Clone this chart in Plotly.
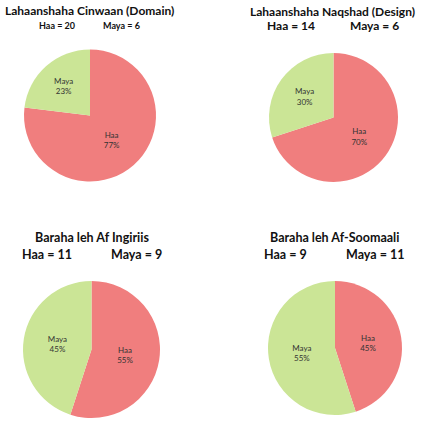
import plotly.graph_objects as go

# data
titles = ['Lahaanshaha Cinwaan (Domain)', 'Lahaanshaha Naqshad (Design)',
          'Baraha leh Af Ingiriis', 'Baraha leh Af-Soomaali']
labels = ['Haa', 'Maya']
haa = [20, 14, 11, 9]
maya = [6, 6, 9, 11]

W = H = 422
COLORS = ['#F07E7E', '#CBE596']
FONT = 'Lato'

# pie boxes in pixels: x0, x1, y0, y1 (y from top)
boxes = [(24, 156, 49, 182), (269, 398, 53, 182),
         (23, 160, 281, 418), (268, 402, 281, 415)]
# title positions: centre x, title y, haa x, maya x, sub y, title size, sub size
heads = [(89, 11, 57, 121, 25, 12, 9),
         (332, 12, 291, 374, 26, 12, 12),
         (92, 237, 47, 136, 254, 12.5, 12.5),
         (334, 237, 285, 375, 254, 12.5, 12.5)]


def px(x):
    return x / W


def py(y):
    return 1 - y / H


fig = go.Figure()
for i in range(4):
    x0, x1, y0, y1 = boxes[i]
    fig.add_trace(go.Pie(
        labels=labels, values=[haa[i], maya[i]],
        sort=False, direction='clockwise', rotation=0,
        marker=dict(colors=COLORS, line=dict(width=0)),
        texttemplate='%{label}<br>%{percent:.0%}',
        textposition='inside', insidetextorientation='horizontal',
        textfont=dict(family=FONT, size=8, color='#333333'),
        domain=dict(x=[px(x0), px(x1)], y=[py(y1), py(y0)]),
        showlegend=False, hoverinfo='label+value+percent'))

    cx, ty, hx, mx, sy, ts, ss = heads[i]
    fig.add_annotation(x=px(cx), y=py(ty), text=f'<b>{titles[i]}</b>',
                       font=dict(size=ts))
    fig.add_annotation(x=px(hx), y=py(sy), text=f'<b>Haa = {haa[i]}</b>',
                       font=dict(size=ss))
    fig.add_annotation(x=px(mx), y=py(sy), text=f'<b>Maya = {maya[i]}</b>',
                       font=dict(size=ss))

fig.update_annotations(xref='paper', yref='paper', showarrow=False,
                       xanchor='center', yanchor='middle')
fig.update_layout(width=W, height=H, margin=dict(l=0, r=0, t=0, b=0),
                  font=dict(family=FONT, color='#111111'),
                  paper_bgcolor='white', plot_bgcolor='white')
# drop the page's default body margin so the 422px figure fits the window
fig.write_html('out.html', config={'displayModeBar': False},
               post_script="document.body.style.margin = '0';")
